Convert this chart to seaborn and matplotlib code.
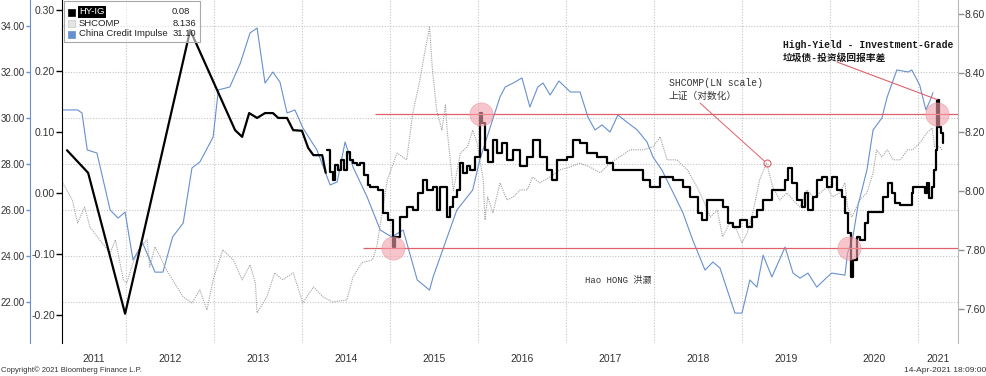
import numpy as np
import pandas as pd
import matplotlib
matplotlib.use("Agg")
import matplotlib.pyplot as plt
from matplotlib.patches import Rectangle
from matplotlib.ticker import FormatStrFormatter
import seaborn as sns

# ---- data, x = decimal year ----
# HY-IG return spread, sparse early readings (straight segments)
hy_early_years = [2011.33, 2011.57, 2011.99, 2012.73, 2013.24, 2013.32, 2013.40, 2013.49, 2013.58,
                  2013.67, 2013.73, 2013.83, 2013.90, 2014.00, 2014.07, 2014.13, 2014.23, 2014.27]
hy_early_vals = [0.070, 0.033, -0.198, 0.267, 0.103, 0.092, 0.131, 0.123, 0.131,
                 0.131, 0.123, 0.123, 0.103, 0.102, 0.074, 0.062, 0.062, 0.033]

# HY-IG weekly readings from mid 2014 (drawn as steps)
hy_years = [
    2014.28, 2014.32, 2014.35, 2014.38, 2014.41, 2014.44, 2014.48, 2014.51, 2014.55, 2014.58,
    2014.63, 2014.66, 2014.70, 2014.75, 2014.77, 2014.82, 2014.86, 2014.92, 2014.98, 2015.03,
    2015.06, 2015.11, 2015.19, 2015.26, 2015.32, 2015.38, 2015.42, 2015.49, 2015.53, 2015.57,
    2015.65, 2015.68, 2015.72, 2015.76, 2015.80, 2015.83, 2015.88, 2015.91, 2015.97, 2016.02,
    2016.05, 2016.08, 2016.11, 2016.17, 2016.22, 2016.27, 2016.33, 2016.40, 2016.48, 2016.56,
    2016.62, 2016.70, 2016.78, 2016.84, 2016.90, 2017.01, 2017.08, 2017.16, 2017.24, 2017.35,
    2017.47, 2017.53, 2017.69, 2017.88, 2017.95, 2018.07, 2018.22, 2018.33, 2018.41, 2018.50,
    2018.55, 2018.60, 2018.67, 2018.78, 2018.84, 2018.90, 2018.98, 2019.06, 2019.11, 2019.17,
    2019.24, 2019.34, 2019.43, 2019.49, 2019.52, 2019.57, 2019.63, 2019.68, 2019.72, 2019.75,
    2019.81, 2019.85, 2019.91, 2019.97, 2020.02, 2020.08, 2020.14, 2020.17, 2020.20, 2020.24,
    2020.26, 2020.31, 2020.34, 2020.40, 2020.43, 2020.59, 2020.60, 2020.66, 2020.70, 2020.74,
    2020.80, 2020.88, 2020.93, 2020.94, 2021.05, 2021.08, 2021.10, 2021.13, 2021.16, 2021.18,
    2021.20, 2021.22, 2021.24, 2021.26, 2021.28]
hy_vals = [
    0.070, 0.034, 0.021, 0.046, 0.038, 0.054, 0.038, 0.067, 0.054, 0.049,
    0.046, 0.049, 0.030, 0.013, 0.010, 0.010, 0.005, -0.033, -0.044, -0.088,
    -0.072, -0.039, -0.023, -0.028, 0.000, 0.021, 0.005, 0.010, -0.028, 0.010,
    -0.039, -0.023, -0.006, 0.005, 0.049, 0.033, 0.044, 0.038, 0.059, 0.131,
    0.115, 0.070, 0.051, 0.087, 0.066, 0.082, 0.054, 0.070, 0.044, 0.059,
    0.087, 0.059, 0.038, 0.021, 0.054, 0.059, 0.087, 0.082, 0.066, 0.059,
    0.049, 0.038, 0.038, 0.021, 0.010, 0.026, 0.021, 0.010, -0.006, -0.033,
    -0.044, -0.011, -0.011, -0.023, -0.049, -0.056, -0.044, -0.056, -0.039, -0.028,
    -0.011, 0.005, 0.005, 0.021, 0.041, 0.016, -0.011, -0.023, 0.000, -0.028,
    -0.006, 0.021, 0.026, 0.010, 0.026, 0.005, -0.006, -0.033, -0.066, -0.138,
    -0.110, -0.072, -0.077, -0.049, -0.031, -0.031, -0.006, 0.016, 0.000, -0.016,
    -0.020, -0.020, 0.000, 0.010, 0.010, 0.000, 0.016, -0.008, 0.010, 0.038,
    0.070, 0.153, 0.108, 0.098, 0.082]

# China Credit Impulse
ci_years = [
    2011.28, 2011.45, 2011.50, 2011.56, 2011.67, 2011.82, 2011.91, 2011.99, 2012.08, 2012.19,
    2012.33, 2012.42, 2012.53, 2012.65, 2012.75, 2012.84, 2012.99, 2013.05, 2013.18, 2013.30,
    2013.41, 2013.49, 2013.58, 2013.67, 2013.75, 2013.83, 2013.92, 2014.01, 2014.17, 2014.32,
    2014.40, 2014.49, 2014.58, 2014.74, 2014.89, 2015.02, 2015.15, 2015.31, 2015.45, 2015.49,
    2015.76, 2015.94, 2016.02, 2016.14, 2016.25, 2016.31, 2016.40, 2016.50, 2016.59, 2016.68,
    2016.74, 2016.82, 2016.92, 2017.05, 2017.16, 2017.25, 2017.33, 2017.41, 2017.50, 2017.59,
    2017.69, 2017.81, 2017.92, 2017.99, 2018.09, 2018.22, 2018.33, 2018.44, 2018.58, 2018.67,
    2018.75, 2018.92, 2019.00, 2019.09, 2019.17, 2019.24, 2019.34, 2019.49, 2019.58, 2019.66,
    2019.75, 2019.85, 2019.97, 2020.02, 2020.17, 2020.20, 2020.26, 2020.32, 2020.42, 2020.49,
    2020.59, 2020.65, 2020.76, 2020.89, 2020.93, 2021.02, 2021.09, 2021.14, 2021.17]
ci_vals = [
    30.35, 30.35, 30.22, 28.61, 28.48, 26.00, 25.65, 25.91, 23.83, 24.56,
    23.30, 23.30, 24.83, 25.43, 27.83, 28.09, 29.17, 31.22, 31.35, 32.39,
    33.70, 33.91, 31.52, 32.00, 31.56, 30.22, 30.35, 29.57, 28.61, 27.09,
    27.22, 28.96, 27.87, 26.57, 25.13, 24.83, 25.13, 22.96, 22.52, 23.09,
    26.00, 26.87, 28.17, 29.61, 30.91, 31.35, 31.52, 31.74, 30.48, 31.35,
    31.52, 31.00, 31.61, 31.13, 31.13, 30.04, 29.48, 29.70, 29.39, 30.13,
    29.83, 29.48, 28.96, 28.30, 27.74, 26.74, 25.87, 24.70, 23.39, 23.74,
    23.48, 21.52, 21.52, 22.96, 22.65, 24.04, 23.09, 24.39, 23.26, 23.04,
    23.26, 22.65, 23.09, 23.26, 23.17, 24.13, 24.83, 26.22, 27.74, 29.48,
    30.00, 30.91, 32.09, 32.00, 32.09, 31.43, 30.35, 30.78, 31.10]

# SHCOMP (log scale)
sh_years = [
    2011.28, 2011.39, 2011.45, 2011.53, 2011.59, 2011.70, 2011.82, 2011.88, 2011.97, 2012.01,
    2012.08, 2012.16, 2012.24, 2012.27, 2012.33, 2012.39, 2012.44, 2012.53, 2012.65, 2012.75,
    2012.84, 2012.92, 2012.99, 2013.10, 2013.22, 2013.32, 2013.41, 2013.47, 2013.49, 2013.60,
    2013.69, 2013.78, 2013.90, 2014.01, 2014.13, 2014.24, 2014.35, 2014.51, 2014.58, 2014.68,
    2014.80, 2014.85, 2014.97, 2015.08, 2015.19, 2015.26, 2015.34, 2015.40, 2015.45, 2015.48,
    2015.53, 2015.59, 2015.63, 2015.65, 2015.72, 2015.80, 2015.88, 2015.94, 2015.99, 2016.06,
    2016.08, 2016.11, 2016.17, 2016.25, 2016.33, 2016.40, 2016.48, 2016.56, 2016.62, 2016.70,
    2016.82, 2016.93, 2017.05, 2017.16, 2017.27, 2017.39, 2017.50, 2017.61, 2017.73, 2017.88,
    2017.99, 2018.07, 2018.15, 2018.26, 2018.38, 2018.49, 2018.56, 2018.64, 2018.72, 2018.78,
    2018.86, 2018.94, 2019.00, 2019.06, 2019.13, 2019.20, 2019.28, 2019.35, 2019.43, 2019.51,
    2019.58, 2019.66, 2019.74, 2019.81, 2019.89, 2019.97, 2020.03, 2020.11, 2020.17, 2020.20,
    2020.25, 2020.34, 2020.42, 2020.49, 2020.53, 2020.59, 2020.65, 2020.72, 2020.80, 2020.88,
    2020.94, 2021.02, 2021.10, 2021.16, 2021.19, 2021.25, 2021.28]
sh_vals = [
    8.027, 7.969, 7.891, 7.945, 7.877, 7.834, 7.789, 7.834, 7.698, 7.688,
    7.756, 7.810, 7.834, 7.742, 7.810, 7.776, 7.742, 7.698, 7.640, 7.620,
    7.664, 7.596, 7.698, 7.800, 7.766, 7.698, 7.749, 7.688, 7.586, 7.640,
    7.722, 7.698, 7.722, 7.620, 7.674, 7.640, 7.623, 7.630, 7.708, 7.756,
    7.766, 7.810, 8.037, 8.128, 8.105, 8.264, 8.376, 8.478, 8.555, 8.420,
    8.274, 8.206, 8.291, 8.206, 8.000, 8.128, 8.149, 8.206, 8.162, 8.037,
    7.901, 7.979, 7.925, 8.027, 7.969, 7.979, 8.003, 8.003, 8.047, 8.027,
    8.047, 8.071, 8.081, 8.094, 8.081, 8.061, 8.094, 8.115, 8.139, 8.139,
    8.149, 8.183, 8.105, 8.105, 8.071, 8.013, 7.969, 7.911, 7.935, 7.844,
    7.891, 7.867, 7.823, 7.857, 7.935, 8.037, 8.094, 8.013, 7.969, 7.993,
    7.969, 7.945, 8.003, 7.979, 7.993, 8.013, 7.979, 7.993, 8.027, 7.945,
    7.911, 7.969, 7.993, 8.061, 8.139, 8.115, 8.139, 8.105, 8.105, 8.139,
    8.139, 8.162, 8.196, 8.213, 8.149, 8.149, 8.136]

year_labels = ["2011", "2012", "2013", "2014", "2015", "2016", "2017", "2018", "2019", "2020", "2021"]
ci_ticks = [22, 24, 26, 28, 30, 32, 34]
hy_ticks = [-0.2, -0.1, 0.0, 0.1, 0.2, 0.3]
sh_ticks = [7.6, 7.8, 8.0, 8.2, 8.4, 8.6]

# reference levels and highlighted extremes of HY-IG
hy_upper = 0.13
hy_lower = -0.09
upper_start = 2014.83
lower_start = 2014.69
circle_years = [2015.03, 2016.03, 2020.22, 2021.22]
circle_vals = [-0.09, 0.13, -0.09, 0.13]

legend_names = ["HY-IG", "SHCOMP", "China Credit Impulse"]
legend_last = ["0.08", "8.136", "31.10"]

BLUE = "#6690d0"
GRAY = "#a0a0a0"
RED = "#e0606a"
PINK = "#f2a0aa"
TXT = "#333333"
MONO = ["Liberation Mono", "Noto Sans CJK SC"]

sns.set_style("white")
plt.rcParams["font.family"] = ["Liberation Sans", "Noto Sans CJK SC", "DejaVu Sans"]

W, H = 987, 376


def fx(px):
    return px / W


def fy(py):
    return 1 - py / H


fig = plt.figure(figsize=(W / 100, H / 100), dpi=100)
ax = fig.add_axes([fx(62), 33 / H, 896 / W, 343 / H])
xlim = (2011.273, 2021.455)

# --- China Credit Impulse, outer left axis ---
ci_df = pd.DataFrame({"year": ci_years, "value": ci_vals})
sns.lineplot(data=ci_df, x="year", y="value", ax=ax, color=BLUE, linewidth=0.8, estimator=None)
ax.set_ylim(20.22, 35.13)
ax.set_yticks(ci_ticks)
ax.yaxis.set_major_formatter(FormatStrFormatter("%.2f"))
ax.spines["left"].set_position(("axes", -32 / 896))
ax.spines["left"].set_color(BLUE)
for s in ["top", "right", "bottom"]:
    ax.spines[s].set_visible(False)
ax.tick_params(axis="y", direction="out", length=3, width=1, color=BLUE,
               labelsize=7, labelcolor=TXT, pad=0.5)
ax.set_xlim(xlim)
ax.set_xticks(range(2012, 2022))
ax.set_xticklabels([])
centers = [(max(y, xlim[0]) + min(y + 1, xlim[1])) / 2 for y in range(2011, 2022)]
ax.set_xticks(centers, minor=True)
ax.set_xticklabels(year_labels, minor=True)
ax.tick_params(axis="x", which="both", length=0, labelsize=7.5, labelcolor=TXT, pad=8)
ax.grid(True, which="major", color="#c4c4c4", linestyle=(0, (1, 1.5)), linewidth=0.8)
ax.set_xlabel("")
ax.set_ylabel("")

# --- SHCOMP, right axis ---
ax_sh = ax.twinx()
sh_df = pd.DataFrame({"year": sh_years, "value": sh_vals})
sns.lineplot(data=sh_df, x="year", y="value", ax=ax_sh, color=GRAY, linewidth=0.8,
             linestyle=(0, (1, 1)), estimator=None)
ax_sh.set_ylim(7.484, 8.647)
ax_sh.set_yticks(sh_ticks)
ax_sh.yaxis.set_major_formatter(FormatStrFormatter("%.2f"))
for s in ["top", "left", "bottom"]:
    ax_sh.spines[s].set_visible(False)
ax_sh.spines["right"].set_color("#b8b8b8")
ax_sh.tick_params(axis="y", direction="out", length=4, width=1, color="#909090",
                  labelsize=7.5, labelcolor=TXT, pad=1)
ax_sh.set_ylabel("")
ax_sh.set_xlim(xlim)

# --- HY-IG, inner left axis ---
ax_hy = ax.twinx()
ax_hy.yaxis.tick_left()
hy_early_df = pd.DataFrame({"year": hy_early_years, "value": hy_early_vals})
hy_df = pd.DataFrame({"year": hy_years, "value": hy_vals})
sns.lineplot(data=hy_early_df, x="year", y="value", ax=ax_hy, color="black", linewidth=1.6,
             estimator=None)
sns.lineplot(data=hy_df, x="year", y="value", ax=ax_hy, color="black", linewidth=1.6,
             drawstyle="steps-post", estimator=None)
ax_hy.set_ylim(-0.246, 0.3164)
ax_hy.set_yticks(hy_ticks)
ax_hy.yaxis.set_major_formatter(FormatStrFormatter("%.2f"))
for s in ["top", "right", "bottom"]:
    ax_hy.spines[s].set_visible(False)
ax_hy.spines["left"].set_color("black")
ax_hy.tick_params(axis="y", direction="out", length=4, width=1, color="black",
                  labelsize=7.5, labelcolor=TXT, pad=1, labelleft=True, labelright=False)
ax_hy.set_ylabel("")
ax_hy.set_xlim(xlim)

ax_hy.hlines(hy_upper, upper_start, xlim[1], color=RED, linewidth=0.9, zorder=4)
ax_hy.hlines(hy_lower, lower_start, xlim[1], color=RED, linewidth=0.9, zorder=4)
ax_hy.scatter(circle_years, circle_vals, s=280, color=PINK, alpha=0.6,
              edgecolor="#e88a96", linewidth=0.5, zorder=5)

# annotation: HY-IG latest peak
hy_peak = int(np.argmax(hy_vals))
ax_hy.annotate("", xy=(hy_years[hy_peak], hy_vals[hy_peak]), xycoords="data",
               xytext=(837, H - 62), textcoords="figure pixels",
               arrowprops=dict(arrowstyle="-", color=RED, lw=0.8, shrinkA=0, shrinkB=0))
fig.text(fx(783), fy(45), "High-Yield - Investment-Grade", family=MONO, weight="bold",
         size=7, va="center", color="#1a1a1a")
fig.text(fx(783), fy(58), "垃圾债-投资级回报率差", family=MONO, weight="bold",
         size=7, va="center", color="#1a1a1a")

# annotation: SHCOMP 2019 peak
sh_y = np.array(sh_years)
sh_v = np.array(sh_vals)
mask = (sh_y > 2018.9) & (sh_y < 2019.6)
sh_peak = np.where(mask)[0][np.argmax(sh_v[mask])]
ax_sh.annotate("", xy=(sh_y[sh_peak], sh_v[sh_peak]), xycoords="data",
               xytext=(700, H - 103), textcoords="figure pixels",
               arrowprops=dict(arrowstyle="-", color=RED, lw=0.7, shrinkA=0, shrinkB=2))
ax_sh.plot(sh_y[sh_peak], sh_v[sh_peak], marker="o", ms=5, mfc="none", mec=RED, mew=0.8)
fig.text(fx(669), fy(83), "SHCOMP(LN scale)", family=MONO, size=7, va="center", color="#333333")
fig.text(fx(669), fy(96), "上证（对数化）", family=MONO, size=7, va="center", color="#333333")

fig.text(fx(585), fy(280), "Hao HONG 洪灏", family=MONO, size=6.5, va="center", color="#333333")

# --- legend box ---
fig.add_artist(Rectangle((fx(64), fy(42)), fx(200) - fx(64), fy(1) - fy(42),
                         transform=fig.transFigure, facecolor=(1, 1, 1, 0.55),
                         edgecolor="#a8a8a8", linewidth=0.8))
row_y = [12, 23, 34]
swatch = ["black", "#e4e4e4", BLUE]
for i, (name, last) in enumerate(zip(legend_names, legend_last)):
    fig.add_artist(Rectangle((fx(68), fy(row_y[i] + 3.5)), 7 / W, 7 / H,
                             transform=fig.transFigure, facecolor=swatch[i],
                             edgecolor="#c8c8c8" if i == 1 else swatch[i], linewidth=0.5))
    if i == 0:
        fig.text(fx(79), fy(row_y[i]), name, size=6.8, va="center", color="white",
                 bbox=dict(facecolor="black", edgecolor="none", pad=0.8))
    else:
        fig.text(fx(79), fy(row_y[i]), name, size=6.8, va="center", color="#222222")
    fig.text(fx(190 if i == 0 else 196), fy(row_y[i]), last, size=6.8, va="center",
             ha="right", color="#222222")

fig.text(fx(1), fy(370), "Copyright\u00a9 2021 Bloomberg Finance L.P.", size=5.5, va="center",
         color="#333333")
fig.text(fx(986), fy(370), "14-Apr-2021 18:09:00", size=6, va="center", ha="right",
         color="#333333")

fig.savefig("out.png", dpi=100)
